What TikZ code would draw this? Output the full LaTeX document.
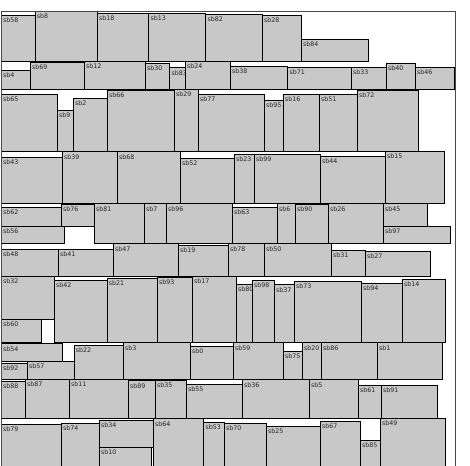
\documentclass[tikz,border=0pt]{standalone}
\usepackage{fontspec}
\newfontfamily\labelfont{DejaVu Sans}
\definecolor{blockfill}{HTML}{C8C8C8}
\definecolor{framered}{HTML}{D01010}

\tikzset{
    blockbox/.style={draw=black, fill=blockfill, line width=0.9pt},
    blocklabel/.style={anchor=north west, inner sep=1.5pt, outer sep=0pt,
        text=black!85, font=\labelfont\fontsize{6.3}{7}\selectfont},
}

\begin{document}
\begin{tikzpicture}[x=1pt, y=-1pt]
    % --- Zone visible ---
    \useasboundingbox (0,0) rectangle (470,465);
    \clip (0,0) rectangle (470,465);

    % --- Blocs : nom / gauche / haut / droite / bas ---
    \foreach \n/\xa/\ya/\xb/\yb in {
        % rangée 1
        58/1.3/15.3/35/61, 8/35/11.3/97.3/61, 18/97.3/13.3/148.7/61,
        13/148.7/13.3/205.7/61, 82/205.7/14.3/262.3/61, 28/262.3/15.3/301.3/61,
        84/301.3/39.3/368.3/61.3,
        % rangée 2
        4/1.3/70.3/30.3/89, 69/30.3/62/84.3/89, 12/84.3/61.3/145.3/89,
        30/145.3/63.3/169.7/89, 83/169.7/67.7/185.3/89, 24/185.3/61.3/230.3/89,
        38/230.3/66.3/287.7/89, 71/287.7/67.3/351.3/89, 33/351.3/67.3/386.3/89,
        40/386.3/63/415.3/89, 46/415.3/67.3/454.7/89,
        % rangée 3
        65/1.3/94.3/57.3/151, 9/57.3/110/73.3/151, 2/73.3/98.3/107.3/151,
        66/107.3/90.3/174.3/151, 29/174.3/89.3/198.3/151, 77/198.3/94.3/264.3/151,
        95/264.3/100.3/283.3/151, 16/283.3/94.3/319.3/151, 51/319.3/94.3/357.3/151,
        72/357.3/90/418.3/151,
        % rangée 4
        43/1.3/157.3/62.3/203.3, 39/62.3/151.7/117.3/203.3, 68/117.3/151.7/180.3/203.3,
        52/180.3/158.3/234.3/203.3, 23/234.3/154/254.3/203.3, 99/254.3/154/320.3/203.3,
        44/320.3/156.3/385.3/203.3, 15/385.3/151.3/444.3/203.3,
        % rangée 5
        62/1.3/207/61.3/226.3, 76/61.3/204.3/94.3/226.3, 56/1.3/226.3/64.3/243.3,
        81/94.3/203.7/144.3/243.3, 7/144.3/203.7/166.3/243.3, 96/166.3/203.7/232.3/243,
        63/232.3/207.3/277.3/243, 6/277.3/203.7/295.3/243, 90/295.3/204.3/328.3/243,
        26/328.3/203.7/383.3/243, 45/383.3/203.7/427.3/226.3, 97/383.3/226.3/450.3/243,
        % rangée 6
        48/1.3/249.3/58.3/276, 41/58.3/249.3/113.3/276, 47/113.3/243.7/178.3/276,
        19/178.3/245.3/228.3/276, 78/228.3/243.7/264.3/276, 50/264.3/243.7/331.3/276,
        31/331.3/250/365.3/276, 27/365.3/251.3/430.3/276,
        % rangée 7
        32/1.3/276.3/54.3/319, 60/1.3/319/41.3/342.3, 42/54.3/280.3/107/342.3,
        21/107/278/157.3/342.3, 93/157.3/277.3/192.3/342.3, 17/192.3/276.3/236.3/342.3,
        80/236.3/284.3/252.3/342.3, 98/252.3/280/274.3/342.3, 37/274.3/284.7/294.3/342.3,
        73/294.3/281/361.3/342.3, 94/361.3/283.3/402.3/342.3, 14/402.3/279.3/445.7/342.3,
        % rangée 8
        54/1.3/343.7/62.3/361.3, 92/1.3/363.3/27.3/379, 57/27.3/361.3/74/379,
        22/74/345.3/123.3/379, 3/123.3/342.7/190.3/379, 0/190.3/346.3/233.3/379,
        59/233.3/342.7/283.3/379, 75/283.3/351.3/302.3/379, 20/302.3/342.7/321.3/379,
        86/321.3/342.7/377.3/379, 1/377.3/342.7/442.3/379,
        % rangée 9
        88/1.3/381/25.3/418, 87/25.3/379.3/69.3/418, 11/69.3/379.3/128.3/418,
        89/128.3/380.7/155.3/418, 35/155.3/380.3/186.3/418, 55/186.3/384.3/242.3/418,
        36/242.3/379.7/309.3/418, 5/309.3/379.7/358.3/418, 61/358.3/385.3/381.3/418,
        91/381.3/385.3/437.3/418,
        % rangée 10
        79/1.3/424.3/61.3/480, 74/61.3/423/99.3/480, 34/99.3/420.3/153.3/447.3,
        10/99.3/447.3/151.7/480, 64/153.3/418.7/203.7/480, 53/203.7/422.3/224.3/480,
        70/224.3/423.3/266.3/480, 25/266.3/426.3/320.3/480, 67/320.3/421.3/360.3/480,
        85/360.3/440.3/380.3/480, 49/380.3/418.3/445.3/480}
    {
        \draw[blockbox] (\xa,\ya) rectangle (\xb,\yb);
        \node[blocklabel] (sb\n) at (\xa+0.3,\ya+1.3) {sb\n};
    }

    % --- Cadre ---
    \draw[framered, line width=0.8pt] (1.3,11.3) rectangle (455.3,500);
\end{tikzpicture}
\end{document}
